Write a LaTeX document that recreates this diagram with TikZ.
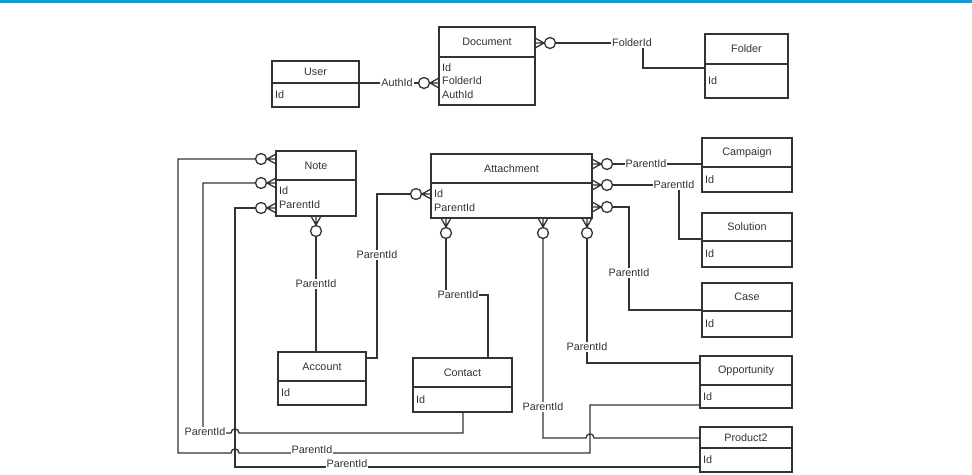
\documentclass[tikz,border=0pt]{standalone}
\usepackage{fontspec}
\setmainfont{Liberation Sans}
\usetikzlibrary{arrows.meta,calc}

\definecolor{ink}{HTML}{333333}
\definecolor{barblue}{HTML}{00A2E1}

\pgfdeclarearrow{
  name = CrowO,
  setup code = {
    \pgfarrowssettipend{0pt}
    \pgfarrowssetlineend{-20.5pt}
    \pgfarrowssetbackend{-20.5pt}
    \pgfarrowssetvisualbackend{-20.5pt}
    \pgfarrowshullpoint{0pt}{5pt}
    \pgfarrowshullpoint{0pt}{-5pt}
    \pgfarrowshullpoint{-21pt}{5.5pt}
    \pgfarrowshullpoint{-21pt}{-5.5pt}
  },
  drawing code = {
    \pgfsetdash{}{0pt}
    \pgfsetroundjoin
    \pgfpathmoveto{\pgfqpoint{0pt}{5pt}}
    \pgfpathlineto{\pgfqpoint{-9pt}{0pt}}
    \pgfpathlineto{\pgfqpoint{0pt}{-5pt}}
    \pgfpathmoveto{\pgfqpoint{0pt}{0pt}}
    \pgfpathlineto{\pgfqpoint{-9.5pt}{0pt}}
    \pgfpathcircle{\pgfqpoint{-15pt}{0pt}}{5.5pt}
    \pgfusepathqstroke
  }
}

\tikzset{
  ebox/.style={draw=ink, line width=1.4pt, fill=white, inner sep=0pt, outer sep=0pt, rectangle},
  eline/.style={draw=ink, line width=1.3pt},
  etext/.style={text=ink, font=\fontsize{10.8}{13.8}\selectfont, inner sep=0pt},
  plainc/.style={draw=ink, line width=1.3pt},
  conn/.style={plainc, {CrowO}-},
  lbl/.style={fill=white, text=ink, font=\fontsize{10.8}{12}\selectfont, inner sep=1pt}
}

\newcommand\erent[8]{%
  \node[ebox, minimum width=#4pt, minimum height=#6pt, anchor=north west] (#1) at (#2,#3) {};
  \draw[eline] ([yshift=-#5pt]#1.north west) -- ([yshift=-#5pt]#1.north east);
  \path ([yshift=-#5pt]#1.north west) -- (#1.south west) coordinate[midway] (#1-bc);
  \path (#1.north) -- ([yshift=-#5pt]#1.north) coordinate[midway] (#1-hc);
  \node[etext] at (#1-hc) {#7};
  \node[etext, anchor=west, align=left] at ([xshift=3pt]#1-bc) {#8};
}

\begin{document}
\begin{tikzpicture}[x=1pt,y=-1pt]
\useasboundingbox (0,0) rectangle (972,474);
\fill[barblue] (0,0) rectangle (972,3);

% entities
\erent{User}{272}{61}{87}{22}{46}{User}{Id}
\erent{Document}{439}{27}{96}{30}{78}{Document}{Id\\FolderId\\AuthId}
\erent{Folder}{705}{34}{83}{30}{64}{Folder}{Id}
\erent{Note}{276}{151}{80}{29}{65}{Note}{Id\\ParentId}
\erent{Attachment}{431}{154}{161}{29}{64}{Attachment}{Id\\ParentId}
\erent{Campaign}{702}{138}{90}{29}{54}{Campaign}{Id}
\erent{Solution}{702}{213}{90}{28}{54}{Solution}{Id}
\erent{Case}{702}{283}{90}{28}{54}{Case}{Id}
\erent{Opportunity}{700}{356}{92}{29}{52}{Opportunity}{Id}
\erent{Product2}{700}{427}{92}{21}{45}{Product2}{Id}
\erent{Account}{278}{352}{88}{29}{53}{Account}{Id}
\erent{Contact}{413}{358}{99}{29}{54}{Contact}{Id}

% connectors
\draw[conn] (Document.west |- 0,83) -- (User.east |- 0,83);
\draw[conn] (Document.east |- 0,43) -- (643,43) -- (643,68) -- (Folder.west |- 0,68);

\draw[conn] (Note.west |- 0,159) -- (178,159) -- (178,453) -- (231,453)
  .. controls (231,447.5) and (239,447.5) .. (239,453) -- (590,453) -- (590,405)
  -- (Opportunity.west |- 0,405);
\draw[conn] (Note.west |- 0,183) -- (203,183) -- (203,433) -- (231,433)
  .. controls (231,427.5) and (239,427.5) .. (239,433) -- (463,433)
  -- (Contact.south -| 463,0);
\draw[conn] (Note.west |- 0,208) -- (235,208) -- (235,467) -- (Product2.west |- 0,467);
\draw[conn] (Note.south -| 316,0) -- (Account.north -| 316,0);

\draw[conn] (Attachment.west |- 0,194) -- (377,194) -- (377,358) -- (Account.east |- 0,358);
\draw[conn] (Attachment.south -| 446,0) -- (446,295) -- (488,295) -- (Contact.north -| 488,0);
\draw[conn] (Attachment.south -| 543,0) -- (543,438) -- (586,438)
  .. controls (586,432.5) and (594,432.5) .. (594,438) -- (Product2.west |- 0,438);
\draw[conn] (Attachment.south -| 587,0) -- (587,363) -- (Opportunity.west |- 0,363);
\draw[conn] (Attachment.east |- 0,164) -- (Campaign.west |- 0,164);
\draw[conn] (Attachment.east |- 0,185) -- (679,185) -- (679,239) -- (Solution.west |- 0,239);
\draw[conn] (Attachment.east |- 0,207) -- (629,207) -- (629,310) -- (Case.west |- 0,310);

% labels
\node[lbl] (lAuth) at (397,83) {AuthId};
\node[lbl] (lFold) at (632,43) {FolderId};
\node[lbl] (lN1) at (312,450) {ParentId};
\node[lbl] (lN2) at (205,432) {ParentId};
\node[lbl] (lN3) at (347,464) {ParentId};
\node[lbl] (lN4) at (316,284) {ParentId};
\node[lbl] (lA1) at (377,255) {ParentId};
\node[lbl] (lA2) at (458,295) {ParentId};
\node[lbl] (lA3) at (543,407) {ParentId};
\node[lbl] (lA4) at (587,347) {ParentId};
\node[lbl] (lA5) at (646,164) {ParentId};
\node[lbl] (lA6) at (674,185) {ParentId};
\node[lbl] (lA7) at (629,273) {ParentId};
\end{tikzpicture}
\end{document}
